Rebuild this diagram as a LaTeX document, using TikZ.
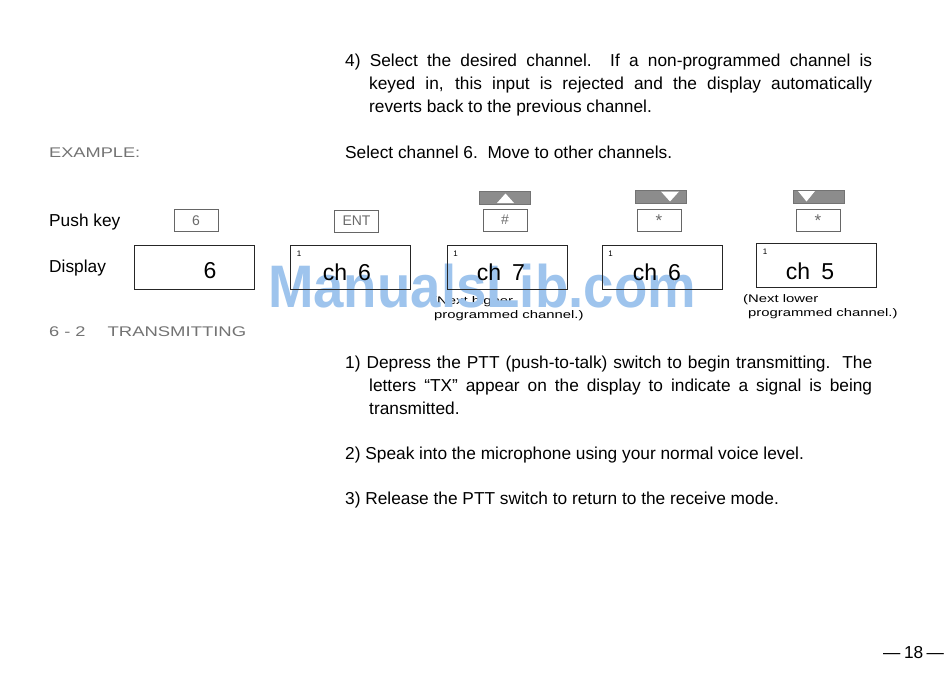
\documentclass[tikz,border=0pt]{standalone}
\usepackage{fontspec}
\setmainfont{Liberation Sans}
\usetikzlibrary{positioning}

\definecolor{wmblue}{RGB}{158,196,237}
\definecolor{keygray}{gray}{0.42}
\definecolor{fadegray}{gray}{0.45}

\newcommand{\wide}[2]{\scalebox{#1}[1]{#2}}

\tikzset{
   body/.style={anchor=base west,inner sep=0pt,font=\fontsize{17.3}{20}\selectfont},
   capt/.style={anchor=base west,inner sep=0pt,font=\fontsize{11}{12}\selectfont},
   fade/.style={anchor=base west,inner sep=0pt,text=fadegray,font=\fontsize{14}{16}\selectfont},
   keybox/.style={draw=black!60,line width=0.8pt,minimum width=44,minimum height=22,
      inner sep=0pt,text=keygray,font=\fontsize{14}{14}\selectfont},
   lcdbox/.style={draw=black!85,line width=1pt,minimum width=120,minimum height=44,inner sep=0pt},
   lcd/.style={anchor=base,inner sep=0pt,font=\fontsize{23}{23}\selectfont},
   segone/.style={inner sep=0pt,font=\fontsize{8}{8}\selectfont},
   strip/.style={fill=black!45,draw=black!55,line width=0.5pt,minimum width=51,minimum height=13,inner sep=0pt}
}

\begin{document}
\begin{tikzpicture}[x=1pt,y=-1pt]
   \useasboundingbox (0,0) rectangle (950,681);
   \fill [white] (0,0) rectangle (950,681);

   % step 4 text
   \node [body] (s4a) at (345,66) {\makebox[527pt][s]{4)\ Select the desired channel.\ \ If a non-programmed channel is}};
   \node [body] (s4b) at (369,89) {\makebox[503pt][s]{keyed in, this input is rejected and the display automatically}};
   \node [body] (s4c) at (369,112) {reverts back to the previous channel.};
   \node [body] (sel) at (345,158) {Select channel 6.\ \ Move to other channels.};

   % left column
   \node [fade] (ex) at (49,157) {\wide{1.3}{EXAMPLE:}};
   \node [body] (push) at (49,226) {Push key};
   \node [body] (disp) at (49,272) {Display};
   \node [fade] (sec) at (49,336) {\wide{1.3}{6 - 2}\hspace{22pt}\wide{1.32}{TRANSMITTING}};

   % captions hidden under the watermark
   \node [capt] (up1) at (432,304) {\wide{1.35}{(Next higher}};

   % watermark
   \node [anchor=base,inner sep=0pt,text=wmblue,font=\fontsize{60}{60}\selectfont\bfseries]
      (wm) at (482,307) {\wide{0.91}{ManualsLib.com}};

   % keys
   \node [keybox] (k6) at (196,220.5) {6};
   \node [keybox] (kent) at (356.5,221) {ENT};
   \node [keybox] (kup) at (505,220) {\#};
   \node [keybox] (kdn) at (659,220.5) {\raisebox{-4pt}{\fontsize{17}{17}\selectfont *}};
   \node [keybox] (kdnb) at (818,220.5) {\raisebox{-4pt}{\fontsize{17}{17}\selectfont *}};

   % arrow strips over the keys
   \node [strip] (aup) at (505,197.5) {};
   \fill [white] (497,203) -- (514,203) -- (505.5,193.5) -- cycle;
   \node [strip] (adn) at (661,197) {};
   \fill [white] (661,191.5) -- (679,191.5) -- (670,201.5) -- cycle;
   \node [strip] (adnb) at (818.5,196.5) {};
   \fill [white] (798,191) -- (815,191) -- (806.5,201.5) -- cycle;

   % displays
   \node [lcdbox] (d1) at (194,267.5) {};
   \node [lcdbox] (d2) at (350.5,267.5) {};
   \node [lcdbox] (d3) at (507,267) {};
   \node [lcdbox] (d4) at (662,267) {};
   \node [lcdbox] (d5) at (816.5,265.5) {};

   \node [lcd] (t1) at (210,278) {6};
   \node [lcd] (t2) at (347,280) {ch\hspace{11pt}6};
   \node [lcd] (t3) at (501,280) {ch\hspace{11pt}7};
   \node [lcd] (t4) at (657,280) {ch\hspace{11pt}6};
   \node [lcd] (t5) at (810,279) {ch\hspace{11pt}5};

   \node [segone] (o2) at ([xshift=9,yshift=-9]d2.north west) {1};
   \node [segone] (o3) at ([xshift=9,yshift=-9]d3.north west) {1};
   \node [segone] (o4) at ([xshift=9,yshift=-9]d4.north west) {1};
   \node [segone] (o5) at ([xshift=9,yshift=-9]d5.north west) {1};

   % captions under the displays
   \node [capt] (up2) at (434,318) {\wide{1.35}{programmed channel.)}};
   \node [capt] (lo1) at (743,302) {\wide{1.35}{(Next lower}};
   \node [capt] (lo2) at (748,316) {\wide{1.35}{programmed channel.)}};

   % transmitting steps
   \node [body] (p1a) at (345,368) {\makebox[527pt][s]{1)\ Depress the PTT (push-to-talk) switch to begin transmitting.\ \ The}};
   \node [body] (p1b) at (369,391) {\makebox[503pt][s]{letters ``TX'' appear on the display to indicate a signal is being}};
   \node [body] (p1c) at (369,414) {transmitted.};
   \node [body] (p2) at (345,459) {2)\ Speak into the microphone using your normal voice level.};
   \node [body] (p3) at (345,504) {3)\ Release the PTT switch to return to the receive mode.};

   \node [body] (page) at (883,658) {—\hspace{3.5pt}18\hspace{3.5pt}—};
\end{tikzpicture}
\end{document}
